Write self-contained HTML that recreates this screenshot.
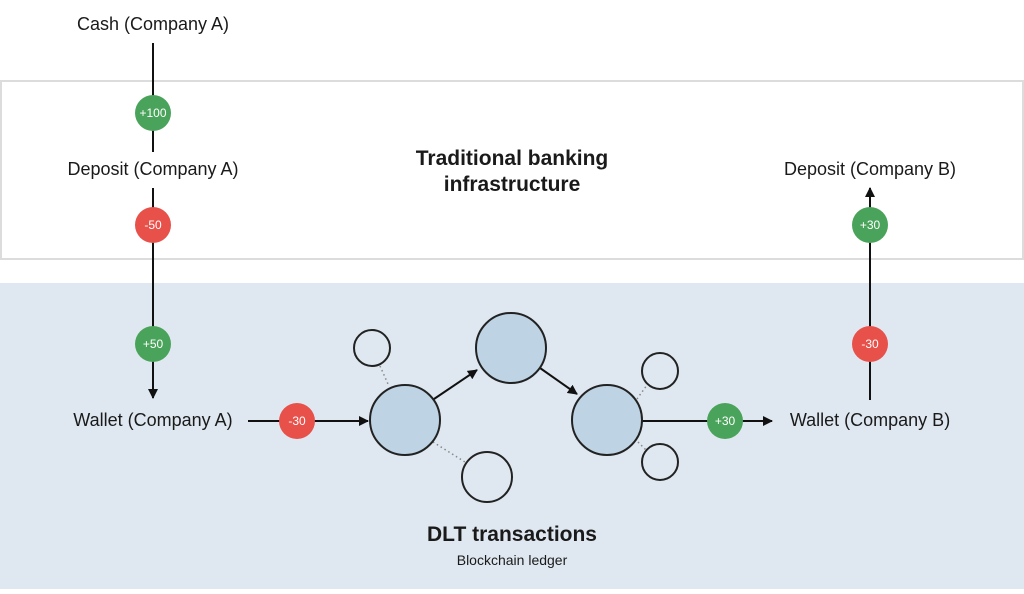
<!DOCTYPE html>
<html><head><style>
body{margin:0;width:1024px;height:589px;overflow:hidden;background:#fff;font-family:"Liberation Sans",sans-serif}
</style></head><body>
<svg width="1024" height="589" xmlns="http://www.w3.org/2000/svg" font-family="Liberation Sans, sans-serif">
<defs><marker id="a" markerWidth="10" markerHeight="10" refX="9" refY="5" orient="auto" markerUnits="userSpaceOnUse"><path d="M0,0L10,5L0,10z" fill="#111"/></marker></defs>
<rect x="0" y="0" width="1024" height="589" fill="#fff"/>
<rect x="1" y="81" width="1022" height="178" fill="#fff" stroke="#dcdcdc" stroke-width="2"/>
<rect x="0" y="283" width="1024" height="306" fill="#dfe8f0"/>
<g fill="#1a1a1a" font-size="18" text-anchor="middle">
<text x="153" y="30">Cash (Company A)</text>
<text x="153" y="175">Deposit (Company A)</text>
<text x="153" y="426">Wallet (Company A)</text>
<text x="870" y="175">Deposit (Company B)</text>
<text x="870" y="426">Wallet (Company B)</text>
<text x="512" y="165" font-weight="bold" font-size="21">Traditional banking</text>
<text x="512" y="191" font-weight="bold" font-size="21">infrastructure</text>
<text x="512" y="541" font-weight="bold" font-size="21">DLT transactions</text>
<text x="512" y="565" font-size="14">Blockchain ledger</text>
</g>
<g stroke="#111" stroke-width="2" fill="none">
<line x1="153" y1="43" x2="153" y2="152"/>
<line x1="153" y1="188" x2="153" y2="398" marker-end="url(#a)"/>
<line x1="248" y1="421" x2="368" y2="421" marker-end="url(#a)"/>
<line x1="434" y1="399" x2="477" y2="370" marker-end="url(#a)"/>
<line x1="540" y1="368" x2="577" y2="394" marker-end="url(#a)"/>
<line x1="642" y1="421" x2="772" y2="421" marker-end="url(#a)"/>
<line x1="870" y1="400" x2="870" y2="188" marker-end="url(#a)"/>
</g>
<g stroke="#888" stroke-width="1.5" stroke-dasharray="1.5,3">
<line x1="380" y1="366" x2="388" y2="384"/>
<line x1="433" y1="442" x2="465" y2="462"/>
<line x1="637" y1="399" x2="647" y2="385"/>
<line x1="638" y1="442" x2="646" y2="450"/>
</g>
<g stroke="#222" stroke-width="2">
<circle cx="405" cy="420" r="35" fill="#bed3e4"/>
<circle cx="511" cy="348" r="35" fill="#bed3e4"/>
<circle cx="607" cy="420" r="35" fill="#bed3e4"/>
<circle cx="372" cy="348" r="18" fill="none"/>
<circle cx="487" cy="477" r="25" fill="none"/>
<circle cx="660" cy="371" r="18" fill="none"/>
<circle cx="660" cy="462" r="18" fill="none"/>
</g>
<g font-size="12" fill="#fff" text-anchor="middle">
<circle cx="153" cy="113" r="18" fill="#4aa35a"/><text x="153" y="117">+100</text>
<circle cx="153" cy="225" r="18" fill="#e8504a"/><text x="153" y="229">-50</text>
<circle cx="153" cy="344" r="18" fill="#4aa35a"/><text x="153" y="348">+50</text>
<circle cx="297" cy="421" r="18" fill="#e8504a"/><text x="297" y="425">-30</text>
<circle cx="725" cy="421" r="18" fill="#4aa35a"/><text x="725" y="425">+30</text>
<circle cx="870" cy="344" r="18" fill="#e8504a"/><text x="870" y="348">-30</text>
<circle cx="870" cy="225" r="18" fill="#4aa35a"/><text x="870" y="229">+30</text>
</g>
</svg>
</body></html>
